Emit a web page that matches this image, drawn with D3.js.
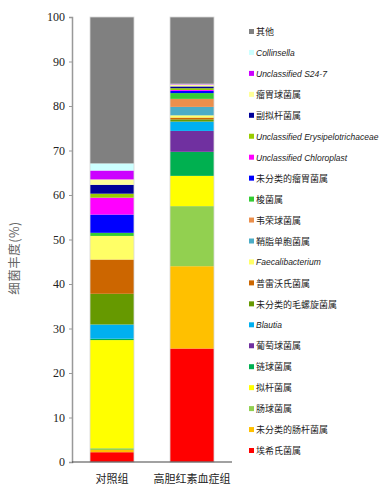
<!DOCTYPE html>
<html><head><meta charset="utf-8">
<script src="https://cdn.jsdelivr.net/npm/d3@7"></script>
<style>body{margin:0;background:#fff}svg{display:block}</style>
</head><body>
<svg id="chart" width="382" height="494"></svg>
<script>
// categories (groups on x axis)
const groups = ["对照组", "高胆红素血症组"];
// genera in stack order (bottom -> top)
const genera = ["埃希氏菌属","未分类的肠杆菌属","肠球菌属","拟杆菌属","链球菌属","葡萄球菌属","Blautia","未分类的毛螺旋菌属","普雷沃氏菌属","Faecalibacterium","鞘脂单胞菌属","韦荣球菌属","梭菌属","未分类的瘤胃菌属","Unclassified Chloroplast","Unclassified Erysipelotrichaceae","副拟杆菌属","瘤胃球菌属","Unclassified S24-7","Collinsella","其他"];
const italicNames = ["Blautia","Faecalibacterium","Unclassified Chloroplast","Unclassified Erysipelotrichaceae","Unclassified S24-7","Collinsella"];
// relative abundance (%) per genus
const controlValues = [2.2,0.5,0.4,24.3,0.3,0,3.2,6.9,7.7,5.3,0,0,0.7,4.1,3.8,0.9,2.0,1.2,2.0,1.6,32.9];
const hyperValues   = [25.5,18.5,13.5,6.8,5.4,4.7,2.1,0.5,0.4,0.5,1.9,1.8,1.3,0.5,0.2,0.4,0.4,0.4,0.1,0.1,15.0];
const colors = ["#FF0000","#FFC000","#92D050","#FFFF00","#00B050","#7030A0","#00B0F0","#669900","#CC6600","#FFFF66","#4BACC6","#EB8F4C","#33CC33","#0000FF","#FF00FF","#99CC00","#000099","#FFFF99","#CC00FF","#CCFFFF","#808080"];
const yTicks = [0,10,20,30,40,50,60,70,80,90,100];

const svg = d3.select("#chart");
const x = d3.scaleBand().domain(groups).range([72,232]).paddingInner(0.45).paddingOuter(0.225);
const y = d3.scaleLinear().domain([0,100]).range([462,17]);
const color = d3.scaleOrdinal().domain(genera).range(colors);

const rows = groups.map((g,i)=>{
  const r = {group:g};
  genera.forEach((k,j)=>{ r[k] = (i===0?controlValues:hyperValues)[j]; });
  return r;
});
const series = d3.stack().keys(genera)(rows);

svg.append("g").selectAll("g").data(series).join("g")
  .attr("fill", d=>color(d.key))
  .selectAll("rect").data(d=>d).join("rect")
  .attr("x", d=>x(d.data.group))
  .attr("width", x.bandwidth())
  .attr("y", d=>y(d[1]))
  .attr("height", d=>Math.max(0, y(d[0])-y(d[1])));

// bar outlines
svg.append("g").selectAll("rect").data(rows).join("rect")
  .attr("x", d=>x(d.group)).attr("width", x.bandwidth())
  .attr("y", y(100)).attr("height", y(0)-y(100))
  .attr("fill","none").attr("stroke","#d8d8d8").attr("stroke-width",0.8);

// y axis
const yAxis = svg.append("g").attr("transform","translate(72,0)")
  .call(d3.axisLeft(y).tickValues(yTicks).tickSize(3).tickPadding(4));
yAxis.select(".domain").attr("stroke","#999").attr("stroke-width",1.5);
yAxis.selectAll(".tick line").attr("stroke","#999");
yAxis.selectAll("text").attr("font-family","'Liberation Serif', serif").attr("font-size",12).attr("fill","#222");

// x baseline
svg.append("line").attr("x1",72).attr("x2",232).attr("y1",462).attr("y2",462)
  .attr("stroke","#444").attr("stroke-width",1.2);

// x labels
svg.append("g").selectAll("text").data(groups).join("text")
  .attr("x", d=>x(d)+x.bandwidth()/2).attr("y",483)
  .attr("text-anchor","middle").attr("font-family","'Noto Sans CJK SC', sans-serif")
  .attr("font-size",11).attr("fill","#222").text(d=>d);

// y title
svg.append("text").attr("transform","translate(19,258) rotate(-90)")
  .attr("text-anchor","middle").attr("font-family","'Noto Sans CJK SC', sans-serif")
  .attr("font-size",12.5).attr("letter-spacing",0.5).attr("fill","#666").text("细菌丰度(%)");

// legend (reverse order)
const legendItems = genera.slice().reverse();
const lg = svg.append("g").selectAll("g").data(legendItems).join("g")
  .attr("transform",(d,i)=>`translate(249,${32+i*20.95})`);
lg.append("rect").attr("x",0).attr("y",-3).attr("width",5).attr("height",5).attr("fill",d=>color(d));
lg.append("text").attr("x",7).attr("y",0).attr("dy","0.35em")
  .attr("font-family",d=>italicNames.includes(d)?"'Liberation Sans', sans-serif":"'Noto Sans CJK SC', sans-serif")
  .attr("font-style",d=>italicNames.includes(d)?"italic":"normal")
  .attr("font-size",d=>italicNames.includes(d)?8.5:9)
  .attr("fill","#222").text(d=>d);
</script>
</body></html>
